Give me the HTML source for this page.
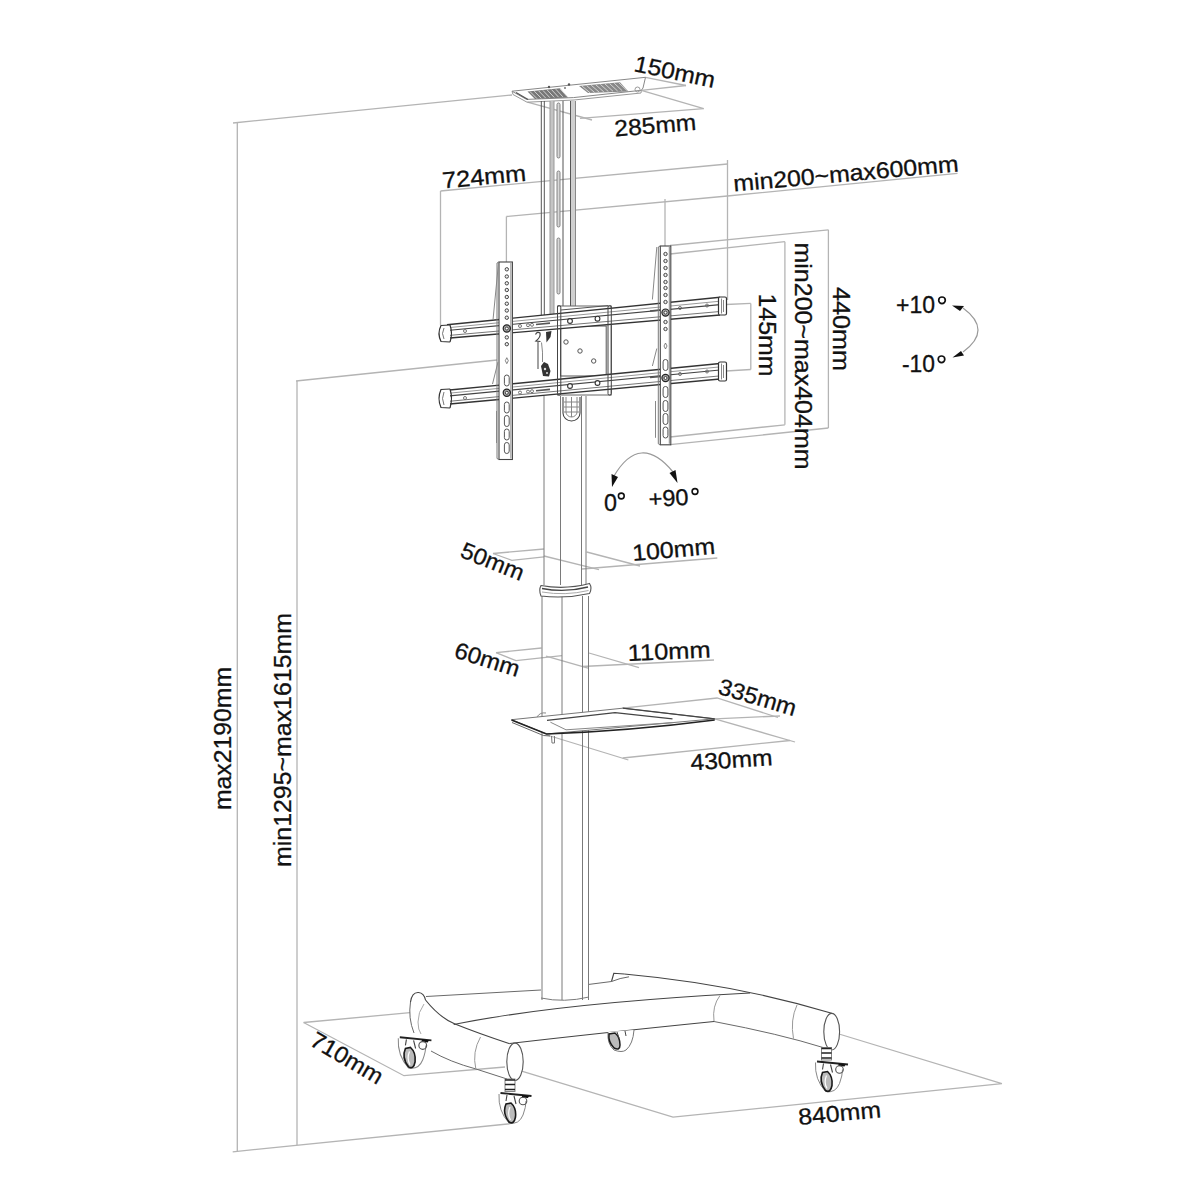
<!DOCTYPE html>
<html><head><meta charset="utf-8"><style>
html,body{margin:0;padding:0;background:#fff;}
svg{display:block;}
</style></head><body>
<svg width="1200" height="1200" viewBox="0 0 1200 1200">
<rect width="1200" height="1200" fill="#fff"/>
<path d="M237.3,122.5 L237.3,1151.8" stroke="#b4b4b4" stroke-width="1.3" fill="none"/>
<path d="M233.0,123.0 L512.0,95.0" stroke="#b4b4b4" stroke-width="1.3" fill="none"/>
<path d="M232.7,1151.8 L510.5,1123.7" stroke="#b4b4b4" stroke-width="1.3" fill="none"/>
<path d="M297.0,381.0 L297.0,1145.0" stroke="#b4b4b4" stroke-width="1.3" fill="none"/>
<path d="M296.0,381.0 L497.0,360.0" stroke="#b4b4b4" stroke-width="1.3" fill="none"/>
<path d="M645.5,77.3 L686.0,85.5" stroke="#b4b4b4" stroke-width="1.3" fill="none"/>
<path d="M641.3,90.3 L686.0,85.5" stroke="#b4b4b4" stroke-width="1.3" fill="none"/>
<path d="M641.3,90.3 L703.7,108.6" stroke="#b4b4b4" stroke-width="1.3" fill="none"/>
<path d="M527.5,102.2 L592.0,120.0" stroke="#b4b4b4" stroke-width="1.3" fill="none"/>
<path d="M580.0,118.3 L703.7,108.6" stroke="#b4b4b4" stroke-width="1.3" fill="none"/>
<path d="M440.5,191.0 L727.5,164.0" stroke="#b4b4b4" stroke-width="1.3" fill="none"/>
<path d="M440.5,191.0 L440.5,325.0" stroke="#b4b4b4" stroke-width="1.3" fill="none"/>
<path d="M727.5,160.0 L727.5,300.0" stroke="#b4b4b4" stroke-width="1.3" fill="none"/>
<path d="M506.4,216.5 L727.5,196.0 L957.5,173.3" stroke="#b4b4b4" stroke-width="1.3" fill="none"/>
<path d="M506.4,216.5 L506.4,262.0" stroke="#b4b4b4" stroke-width="1.3" fill="none"/>
<path d="M665.0,199.0 L665.0,246.0" stroke="#b4b4b4" stroke-width="1.3" fill="none"/>
<path d="M670.0,245.5 L828.4,229.8" stroke="#b4b4b4" stroke-width="1.3" fill="none"/>
<path d="M828.4,229.8 L828.4,428.0" stroke="#b4b4b4" stroke-width="1.3" fill="none"/>
<path d="M670.0,444.7 L828.4,428.0" stroke="#b4b4b4" stroke-width="1.3" fill="none"/>
<path d="M670.0,254.0 L784.9,241.7" stroke="#b4b4b4" stroke-width="1.3" fill="none"/>
<path d="M784.9,241.7 L784.9,424.8" stroke="#b4b4b4" stroke-width="1.3" fill="none"/>
<path d="M670.0,437.0 L784.9,424.8" stroke="#b4b4b4" stroke-width="1.3" fill="none"/>
<path d="M726.0,304.5 L750.8,303.4" stroke="#b4b4b4" stroke-width="1.3" fill="none"/>
<path d="M750.8,303.4 L750.8,369.5" stroke="#b4b4b4" stroke-width="1.3" fill="none"/>
<path d="M726.0,371.0 L750.8,369.5" stroke="#b4b4b4" stroke-width="1.3" fill="none"/>
<path d="M493.0,553.5 L544.0,549.0" stroke="#b4b4b4" stroke-width="1.3" fill="none"/>
<path d="M493.0,553.5 L511.8,560.3 L544.0,556.8" stroke="#b4b4b4" stroke-width="1.3" fill="none"/>
<path d="M544.0,556.0 L599.0,569.7" stroke="#b4b4b4" stroke-width="1.3" fill="none"/>
<path d="M586.7,552.0 L640.0,566.0" stroke="#b4b4b4" stroke-width="1.3" fill="none"/>
<path d="M582.0,569.0 L717.3,558.0" stroke="#b4b4b4" stroke-width="1.3" fill="none"/>
<path d="M496.0,652.7 L541.5,648.0" stroke="#b4b4b4" stroke-width="1.3" fill="none"/>
<path d="M496.0,652.7 L516.0,660.6 L562.0,655.6" stroke="#b4b4b4" stroke-width="1.3" fill="none"/>
<path d="M546.0,656.0 L588.0,668.0" stroke="#b4b4b4" stroke-width="1.3" fill="none"/>
<path d="M589.0,653.0 L639.0,667.6" stroke="#b4b4b4" stroke-width="1.3" fill="none"/>
<path d="M582.0,666.5 L714.0,660.0" stroke="#b4b4b4" stroke-width="1.3" fill="none"/>
<path d="M622.7,708.2 L717.0,698.0 L778.0,717.5" stroke="#b4b4b4" stroke-width="1.3" fill="none"/>
<path d="M714.7,718.8 L780.0,716.0" stroke="#b4b4b4" stroke-width="1.3" fill="none"/>
<path d="M714.7,718.8 L795.0,742.0" stroke="#b4b4b4" stroke-width="1.3" fill="none"/>
<path d="M547.0,735.0 L628.4,760.0" stroke="#b4b4b4" stroke-width="1.3" fill="none"/>
<path d="M622.7,758.0 L790.0,740.5" stroke="#b4b4b4" stroke-width="1.3" fill="none"/>
<path d="M303.6,1022.5 L410.0,1012.7" stroke="#b4b4b4" stroke-width="1.3" fill="none"/>
<path d="M303.6,1022.5 L404.0,1075.7 L505.0,1067.0" stroke="#b4b4b4" stroke-width="1.3" fill="none"/>
<path d="M520.0,1070.7 L673.0,1117.2 L1001.9,1083.7 L839.0,1034.0" stroke="#b4b4b4" stroke-width="1.3" fill="none"/>
<path d="M512,91.2 L645.5,77.3 L643,88 L641.3,90.3 L573.4,97.6 L526.6,99.4 Z" stroke="#888" stroke-width="1" fill="#fff"/>
<path d="M512,91.2 L513,94.5 L527,102.2 L574,100 L641,93 L641.3,90.3" stroke="#999" stroke-width="1" fill="none"/>
<path d="M516,92.5 L528,99.5" stroke="#555" stroke-width="1.3" fill="none"/>
<path d="M527.5,91.5 L560,88.3 L568,97.5 L535,99 Z" fill="#777"/>
<path d="M579,86 L620,82.2 L628.4,91.5 L588,93 Z" fill="#888"/>
<path d="M530.0,91.6 L537.0,98.6" stroke="#ddd" stroke-width="0.9"/>
<path d="M534.3,91.2 L541.3,98.3" stroke="#ddd" stroke-width="0.9"/>
<path d="M538.6,90.8 L545.6,98.0" stroke="#ddd" stroke-width="0.9"/>
<path d="M542.9,90.4 L549.9,97.7" stroke="#ddd" stroke-width="0.9"/>
<path d="M547.2,90.0 L554.2,97.4" stroke="#ddd" stroke-width="0.9"/>
<path d="M551.5,89.6 L558.5,97.1" stroke="#ddd" stroke-width="0.9"/>
<path d="M555.8,89.2 L562.8,96.8" stroke="#ddd" stroke-width="0.9"/>
<path d="M560.1,88.8 L567.1,96.5" stroke="#ddd" stroke-width="0.9"/>
<path d="M582.0,86.0 L590.0,92.8" stroke="#ddd" stroke-width="0.9"/>
<path d="M586.6,85.6 L594.6,92.5" stroke="#ddd" stroke-width="0.9"/>
<path d="M591.2,85.2 L599.2,92.2" stroke="#ddd" stroke-width="0.9"/>
<path d="M595.8,84.8 L603.8,91.9" stroke="#ddd" stroke-width="0.9"/>
<path d="M600.4,84.4 L608.4,91.6" stroke="#ddd" stroke-width="0.9"/>
<path d="M605.0,84.0 L613.0,91.3" stroke="#ddd" stroke-width="0.9"/>
<path d="M609.6,83.6 L617.6,91.0" stroke="#ddd" stroke-width="0.9"/>
<path d="M614.2,83.2 L622.2,90.7" stroke="#ddd" stroke-width="0.9"/>
<path d="M618.8,82.8 L626.8,90.4" stroke="#ddd" stroke-width="0.9"/>
<circle cx="549" cy="87" r="1.2" fill="#555"/><circle cx="569" cy="84.5" r="1.2" fill="#555"/><circle cx="565" cy="88" r="1" fill="#777"/>
<path d="M635,89.5 a2.5,2.5 0 1,0 5,0 a2.5,2.5 0 1,0 -5,0" stroke="#999" stroke-width="1" fill="none"/>
<rect x="550" y="101" width="4" height="217" fill="#c4c4c4"/>
<rect x="570.5" y="101" width="5" height="215" fill="#cfcfcf"/>
<path d="M541.3,101.0 L541.3,318.0" stroke="#555" stroke-width="1" fill="none"/>
<path d="M544.3,101.0 L544.3,318.0" stroke="#555" stroke-width="1" fill="none"/>
<path d="M563.0,101.0 L563.0,318.0" stroke="#555" stroke-width="1" fill="none"/>
<path d="M570.5,101.0 L570.5,318.0" stroke="#555" stroke-width="1" fill="none"/>
<path d="M575.5,101.0 L575.5,316.0" stroke="#888" stroke-width="1" fill="none"/>
<path d="M550.0,101.0 L550.0,318.0" stroke="#999" stroke-width="1" fill="none"/>
<path d="M554.0,101.0 L554.0,318.0" stroke="#999" stroke-width="1" fill="none"/>
<path d="M557,104.5 L557,156.5 A1.5,1.5 0 0,0 560,156.5 L560,104.5 A1.5,1.5 0 0,0 557,104.5 Z" stroke="#777" stroke-width="0.9" fill="#d8d8d8"/>
<path d="M557,172.5 L557,225.5 A1.5,1.5 0 0,0 560,225.5 L560,172.5 A1.5,1.5 0 0,0 557,172.5 Z" stroke="#777" stroke-width="0.9" fill="#d8d8d8"/>
<path d="M557,239.5 L557,292.5 A1.5,1.5 0 0,0 560,292.5 L560,239.5 A1.5,1.5 0 0,0 557,239.5 Z" stroke="#777" stroke-width="0.9" fill="#d8d8d8"/>
<path d="M544.0,396.0 L544.0,585.0" stroke="#7a7a7a" stroke-width="1" fill="none"/>
<path d="M560.5,396.0 L560.5,585.0" stroke="#7a7a7a" stroke-width="1" fill="none"/>
<path d="M581.5,396.0 L581.5,585.0" stroke="#7a7a7a" stroke-width="1" fill="none"/>
<path d="M586.0,396.0 L586.0,585.0" stroke="#7a7a7a" stroke-width="1" fill="none"/>
<path d="M542.0,596.0 L542.0,1000.0" stroke="#7a7a7a" stroke-width="1" fill="none"/>
<path d="M562.0,596.0 L562.0,1000.0" stroke="#7a7a7a" stroke-width="1" fill="none"/>
<path d="M582.5,596.0 L582.5,1000.0" stroke="#7a7a7a" stroke-width="1" fill="none"/>
<path d="M588.5,596.0 L588.5,1000.0" stroke="#7a7a7a" stroke-width="1" fill="none"/>
<path d="M541,998 Q564,1003 589,997" stroke="#7a7a7a" stroke-width="1" fill="none"/>
<path d="M541,585.5 Q538.5,590 541,596 Q565,599 589.5,593.5 Q592.5,588 589.5,583.5 Q565,590 541,585.5 Z" stroke="#555" stroke-width="1.1" fill="#fff"/>
<path d="M542,588.5 Q565,593 588,587" stroke="#444" stroke-width="1.3" fill="none"/>
<path d="M542,592 Q565,596 588.5,590.5" stroke="#aaa" stroke-width="1" fill="none"/>
<rect x="557.5" y="306" width="53.7" height="89" fill="#fff" stroke="#666" stroke-width="1"/>
<rect x="560.6" y="326" width="45.6" height="50" fill="#fff" stroke="#555" stroke-width="1"/>
<circle cx="566" cy="342" r="2.2" fill="none" stroke="#555" stroke-width="1"/>
<circle cx="580" cy="351" r="2.2" fill="none" stroke="#555" stroke-width="1"/>
<circle cx="593.7" cy="361" r="2.2" fill="none" stroke="#555" stroke-width="1"/>
<path d="M563,397 L563,413 A8.5,8 0 0,0 580,413 L580,397" stroke="#444" stroke-width="1.1" fill="#fff"/>
<path d="M566,397 L566,412 A5.5,5 0 0,0 577,412 L577,397" stroke="#888" stroke-width="1" fill="none"/>
<path d="M564.0,402.0 L579.0,402.0" stroke="#888" stroke-width="1" fill="none"/>
<path d="M564.0,407.0 L579.0,407.0" stroke="#888" stroke-width="1" fill="none"/>
<path d="M564.0,412.0 L579.0,412.0" stroke="#888" stroke-width="1" fill="none"/>
<path d="M571.5,397.0 L571.5,417.0" stroke="#888" stroke-width="1" fill="none"/>
<path d="M535.5,334.5 Q537.5,331 540,333 Q541,337 536,341 L540.5,341.5" stroke="#444" stroke-width="1.2" fill="none"/>
<path d="M546,332 L551.5,331 L550.5,337 L546.5,342.5 Z" fill="#333"/>
<path d="M538.0,342.0 L538.0,369.0" stroke="#555" stroke-width="1.1" fill="none"/>
<path d="M541.5,342.5 Q543,352 542.5,362" stroke="#888" stroke-width="1" fill="none"/>
<path d="M541,366 L544,362 L548,364 L550.5,371 L549,376.5 L543,376 Z" fill="#333"/>
<circle cx="545" cy="369" r="1.2" fill="#ddd"/><circle cx="547" cy="373" r="1" fill="#ddd"/>
<path d="M447,324.8 L720,297.3 L720,315 L447,338.3 Z" fill="#fff" stroke="none"/>
<path d="M447,324.8 L720,297.3" stroke="#333" stroke-width="1.4" fill="none"/>
<path d="M447,338.3 L720,315" stroke="#333" stroke-width="1.4" fill="none"/>
<path d="M447,327.8 L720,301.2" stroke="#999" stroke-width="1" fill="none"/>
<path d="M447,330.5 L720,304.7" stroke="#444" stroke-width="1.2" fill="none"/>
<path d="M447,335.6 L720,311.5" stroke="#777" stroke-width="1" fill="none"/>
<path d="M447,390.3 L720,363.5 L720,379 L447,404.3 Z" fill="#fff" stroke="none"/>
<path d="M447,390.3 L720,363.5" stroke="#333" stroke-width="1.4" fill="none"/>
<path d="M447,404.3 L720,379" stroke="#333" stroke-width="1.4" fill="none"/>
<path d="M447,393.4 L720,366.9" stroke="#999" stroke-width="1" fill="none"/>
<path d="M447,396.2 L720,370.0" stroke="#444" stroke-width="1.2" fill="none"/>
<path d="M447,401.5 L720,375.9" stroke="#777" stroke-width="1" fill="none"/>
<path d="M450,325 L441,325.5 Q437,333.5 441,341.5 L450,342" fill="#fff" stroke="#333" stroke-width="1.2"/>
<path d="M450,325 Q453,333.5 450,342" fill="none" stroke="#333" stroke-width="1.2"/>
<path d="M444,328 Q441,333.5 444,339" fill="none" stroke="#666" stroke-width="0.9"/>
<path d="M450,389 L441,389.5 Q437,398.5 441,407.5 L450,408" fill="#fff" stroke="#333" stroke-width="1.2"/>
<path d="M450,389 Q453,398.5 450,408" fill="none" stroke="#333" stroke-width="1.2"/>
<path d="M444,392 Q441,398.5 444,405" fill="none" stroke="#666" stroke-width="0.9"/>
<rect x="718.5" y="297" width="8" height="18" rx="1.5" fill="#fff" stroke="#333" stroke-width="1.2"/>
<path d="M721.5,298.5 L721.5,313.5" stroke="#888" stroke-width="1" fill="none"/>
<path d="M723.5,300.0 L723.5,312.0" stroke="#888" stroke-width="1" fill="none"/>
<rect x="718.5" y="362" width="8" height="19" rx="1.5" fill="#fff" stroke="#333" stroke-width="1.2"/>
<path d="M721.5,363.5 L721.5,379.5" stroke="#888" stroke-width="1" fill="none"/>
<path d="M723.5,365.0 L723.5,378.0" stroke="#888" stroke-width="1" fill="none"/>
<circle cx="465" cy="331" r="1.5" fill="none" stroke="#666" stroke-width="0.9"/>
<circle cx="520" cy="326" r="1.5" fill="none" stroke="#666" stroke-width="0.9"/>
<circle cx="528" cy="325.2" r="1.5" fill="none" stroke="#666" stroke-width="0.9"/>
<circle cx="532" cy="324.8" r="1.5" fill="none" stroke="#666" stroke-width="0.9"/>
<circle cx="680" cy="308" r="1.5" fill="none" stroke="#666" stroke-width="0.9"/>
<circle cx="707" cy="305.5" r="1.5" fill="none" stroke="#666" stroke-width="0.9"/>
<circle cx="465" cy="398" r="1.5" fill="none" stroke="#666" stroke-width="0.9"/>
<circle cx="520" cy="392.5" r="1.5" fill="none" stroke="#666" stroke-width="0.9"/>
<circle cx="528" cy="391.6" r="1.5" fill="none" stroke="#666" stroke-width="0.9"/>
<circle cx="532" cy="391.2" r="1.5" fill="none" stroke="#666" stroke-width="0.9"/>
<circle cx="680" cy="374" r="1.5" fill="none" stroke="#666" stroke-width="0.9"/>
<circle cx="707" cy="371.5" r="1.5" fill="none" stroke="#666" stroke-width="0.9"/>
<path d="M536,324.5 L550,323.1" stroke="#555" stroke-width="1.6"/>
<path d="M650,311 L664,309.6" stroke="#555" stroke-width="1.6"/>
<path d="M536,390.8 L550,389.40000000000003" stroke="#555" stroke-width="1.6"/>
<path d="M650,377.5 L664,376.1" stroke="#555" stroke-width="1.6"/>
<circle cx="570" cy="321" r="2.4" fill="#fff" stroke="#333" stroke-width="1.1"/>
<circle cx="597.5" cy="318.7" r="2.4" fill="#fff" stroke="#333" stroke-width="1.1"/>
<circle cx="570" cy="386" r="2.4" fill="#fff" stroke="#333" stroke-width="1.1"/>
<circle cx="597.5" cy="383" r="2.4" fill="#fff" stroke="#333" stroke-width="1.1"/>
<rect x="557.5" y="305.6" width="3.3" height="89.5" rx="1.5" fill="none" stroke="#444" stroke-width="1"/>
<rect x="608" y="305.6" width="3.3" height="89.5" rx="1.5" fill="none" stroke="#444" stroke-width="1"/>
<path d="M560.8,310.0 L608.0,305.6" stroke="#555" stroke-width="1" fill="none"/>
<rect x="499" y="262" width="13.399999999999977" height="197.5" fill="#fff" stroke="#444" stroke-width="1.1"/>
<path d="M497.0,263.0 L497.0,458.5" stroke="#7a7a7a" stroke-width="1" fill="none"/>
<path d="M497.0,263.0 L499.0,262.0" stroke="#7a7a7a" stroke-width="1" fill="none"/>
<path d="M497.0,458.5 L499.0,459.5" stroke="#7a7a7a" stroke-width="1" fill="none"/>
<path d="M510.9,263.0 L510.9,458.5" stroke="#888" stroke-width="1" fill="none"/>
<circle cx="506.8" cy="269.3" r="1.7" fill="#eee" stroke="#444" stroke-width="1"/>
<circle cx="506.8" cy="276.5" r="1.7" fill="#eee" stroke="#444" stroke-width="1"/>
<circle cx="506.8" cy="283.3" r="1.7" fill="#eee" stroke="#444" stroke-width="1"/>
<circle cx="506.8" cy="290" r="1.7" fill="#eee" stroke="#444" stroke-width="1"/>
<circle cx="506.8" cy="297" r="1.7" fill="#eee" stroke="#444" stroke-width="1"/>
<circle cx="506.8" cy="303.7" r="1.7" fill="#eee" stroke="#444" stroke-width="1"/>
<circle cx="506.8" cy="310.5" r="1.7" fill="#eee" stroke="#444" stroke-width="1"/>
<circle cx="506.8" cy="317.7" r="1.7" fill="#eee" stroke="#444" stroke-width="1"/>
<circle cx="506.8" cy="337.4" r="1.7" fill="#eee" stroke="#444" stroke-width="1"/>
<circle cx="506.8" cy="344.2" r="1.7" fill="#eee" stroke="#444" stroke-width="1"/>
<circle cx="506.8" cy="328.5" r="3.6" fill="#aaa" stroke="#222" stroke-width="1.2"/>
<circle cx="506.8" cy="328.5" r="1.5" fill="#fff" stroke="#222" stroke-width="0.8"/>
<circle cx="506.8" cy="392.8" r="3.6" fill="#aaa" stroke="#222" stroke-width="1.2"/>
<circle cx="506.8" cy="392.8" r="1.5" fill="#fff" stroke="#222" stroke-width="0.8"/>
<path d="M506.8,357.7 L508.3,360.7 L506.8,363.7 L505.3,360.7 Z" fill="none" stroke="#666" stroke-width="0.8"/>
<rect x="504.40000000000003" y="375.0" width="4.8" height="11" rx="2.4" fill="none" stroke="#555" stroke-width="1"/>
<rect x="504.40000000000003" y="402.0" width="4.8" height="11" rx="2.4" fill="none" stroke="#555" stroke-width="1"/>
<rect x="504.40000000000003" y="415.5" width="4.8" height="11" rx="2.4" fill="none" stroke="#555" stroke-width="1"/>
<rect x="504.40000000000003" y="429.0" width="4.8" height="11" rx="2.4" fill="none" stroke="#555" stroke-width="1"/>
<rect x="504.40000000000003" y="442.5" width="4.8" height="11" rx="2.4" fill="none" stroke="#555" stroke-width="1"/>
<rect x="660.3" y="246" width="10.5" height="198.8" fill="#fff" stroke="#444" stroke-width="1.1"/>
<path d="M658.3,247.0 L658.3,443.8" stroke="#7a7a7a" stroke-width="1" fill="none"/>
<path d="M658.3,247.0 L660.3,246.0" stroke="#7a7a7a" stroke-width="1" fill="none"/>
<path d="M658.3,443.8 L660.3,444.8" stroke="#7a7a7a" stroke-width="1" fill="none"/>
<path d="M669.3,247.0 L669.3,443.8" stroke="#888" stroke-width="1" fill="none"/>
<circle cx="665.5" cy="254" r="1.7" fill="#eee" stroke="#444" stroke-width="1"/>
<circle cx="665.5" cy="261" r="1.7" fill="#eee" stroke="#444" stroke-width="1"/>
<circle cx="665.5" cy="268" r="1.7" fill="#eee" stroke="#444" stroke-width="1"/>
<circle cx="665.5" cy="275" r="1.7" fill="#eee" stroke="#444" stroke-width="1"/>
<circle cx="665.5" cy="282" r="1.7" fill="#eee" stroke="#444" stroke-width="1"/>
<circle cx="665.5" cy="288" r="1.7" fill="#eee" stroke="#444" stroke-width="1"/>
<circle cx="665.5" cy="295" r="1.7" fill="#eee" stroke="#444" stroke-width="1"/>
<circle cx="665.5" cy="302" r="1.7" fill="#eee" stroke="#444" stroke-width="1"/>
<circle cx="665.5" cy="322" r="1.7" fill="#eee" stroke="#444" stroke-width="1"/>
<circle cx="665.5" cy="329" r="1.7" fill="#eee" stroke="#444" stroke-width="1"/>
<circle cx="665.5" cy="312.6" r="3.6" fill="#aaa" stroke="#222" stroke-width="1.2"/>
<circle cx="665.5" cy="312.6" r="1.5" fill="#fff" stroke="#222" stroke-width="0.8"/>
<circle cx="665.5" cy="378" r="3.6" fill="#aaa" stroke="#222" stroke-width="1.2"/>
<circle cx="665.5" cy="378" r="1.5" fill="#fff" stroke="#222" stroke-width="0.8"/>
<path d="M665.5,343 L667.0,346 L665.5,349 L664.0,346 Z" fill="none" stroke="#666" stroke-width="0.8"/>
<rect x="663.1" y="359.5" width="4.8" height="11" rx="2.4" fill="none" stroke="#555" stroke-width="1"/>
<rect x="663.1" y="386.5" width="4.8" height="11" rx="2.4" fill="none" stroke="#555" stroke-width="1"/>
<rect x="663.1" y="400.5" width="4.8" height="11" rx="2.4" fill="none" stroke="#555" stroke-width="1"/>
<rect x="663.1" y="413.5" width="4.8" height="11" rx="2.4" fill="none" stroke="#555" stroke-width="1"/>
<rect x="663.1" y="427.0" width="4.8" height="11" rx="2.4" fill="none" stroke="#555" stroke-width="1"/>
<path d="M498.5,263 L493,320 M498,362 L492.5,384 M496.5,411 L496.5,443" stroke="#888" stroke-width="1" fill="none"/>
<path d="M656.8,247 L652.4,299.5 M656.8,348.5 L652.4,366 M655.5,401 L655.5,437.8" stroke="#888" stroke-width="1" fill="none"/>
<path d="M511.5,719.7 L622.7,708.2 L714.7,718.8 L546.5,734 Z" stroke="#777" stroke-width="1" fill="#fff"/>
<path d="M511.5,720 L546.5,734 Q630,731 714.7,720" stroke="#222" stroke-width="1.6" fill="none"/>
<path d="M512,722.5 L543.4,735.5 L550,736" stroke="#666" stroke-width="1" fill="none"/>
<path d="M547,720.4 L615,712.6 L672.5,718.8" stroke="#444" stroke-width="1.2" fill="none"/>
<path d="M566,729.8 L673.5,722.6" stroke="#888" stroke-width="1" fill="none"/>
<path d="M550.4,722.2 L566,729.8" stroke="#888" stroke-width="1" fill="none"/>
<path d="M622.7,708.2 L714.7,718.8" stroke="#444" stroke-width="1.2" fill="none"/>
<path d="M551.5,736 L552,743 L554.5,743 L554.5,736" stroke="#7a7a7a" stroke-width="1" fill="none"/>
<path d="M537,717 Q540,712 546,713" stroke="#888" stroke-width="1" fill="none"/>
<path d="M426.0,996.5 L541.0,990.0" stroke="#6a6a6a" stroke-width="1" fill="none"/>
<path d="M589.0,984.4 L611.5,981.5" stroke="#6a6a6a" stroke-width="1" fill="none"/>
<path d="M611.5,981.5 L613.8,973.3 L624.3,974" stroke="#444" stroke-width="1.15" fill="none"/>
<path d="M611.5,981.5 Q620,978 629,976.8" stroke="#6a6a6a" stroke-width="1" fill="none"/>
<path d="M624.3,974 Q735,984 831.7,1013.3" stroke="#444" stroke-width="1.15" fill="none"/>
<path d="M410.5,1002 Q412,992 418.5,992.5 Q424,993 425.5,1000" stroke="#444" stroke-width="1.15" fill="none"/>
<path d="M410.5,1002 Q408,1018 414,1033" stroke="#6a6a6a" stroke-width="1" fill="none"/>
<path d="M424,1004 Q418,1012 418,1022 Q418,1030 421,1034" stroke="#aaa" stroke-width="1" fill="none"/>
<path d="M425.5,1000 Q440,1018 455,1024 Q480,1034 509.7,1043.7" stroke="#444" stroke-width="1.15" fill="none"/>
<path d="M431,1051 Q450,1062 476,1069 L507,1079" stroke="#6a6a6a" stroke-width="1" fill="none"/>
<path d="M480.5,1037 Q472,1052 475.8,1068.8" stroke="#999" stroke-width="1" fill="none"/>
<path d="M453.7,1024.5 Q560,1003 750,993" stroke="#444" stroke-width="1.15" fill="none"/>
<path d="M509.7,1043.5 Q600,1033 714,1021.5" stroke="#444" stroke-width="1.15" fill="none"/>
<path d="M714,1021.5 Q780,1034 823,1047.5" stroke="#6a6a6a" stroke-width="1" fill="none"/>
<path d="M720,995.5 Q712,1006 714,1021" stroke="#999" stroke-width="1" fill="none"/>
<path d="M797,1005 Q790,1020 793.5,1038.7" stroke="#999" stroke-width="1" fill="none"/>
<ellipse cx="515" cy="1061.8" rx="8.2" ry="18.7" fill="#fff" stroke="#555" stroke-width="1.1"/>
<ellipse cx="831.7" cy="1031.7" rx="7.9" ry="18.3" fill="#fff" stroke="#555" stroke-width="1.1"/>
<g transform="translate(510,1079) scale(1.0)">
<rect x="-5" y="0" width="10" height="12.5" fill="#fff" stroke="#777" stroke-width="0.9"/>
<path d="M-5,1 L5,1 M-5,5.5 L5,5.5 M-5,10.5 L5,10.5" stroke="#222" stroke-width="1.5"/>
<path d="M-11,15 Q-12,32 -1,44 Q9,46 13,36 Q16,28 16,22" fill="#fff" stroke="#888" stroke-width="1"/>
<path d="M-9.5,14 L21.5,17" stroke="#222" stroke-width="1.9" fill="none"/>
<path d="M12,16 L19,17 L18,19 L12,18.5 Z" fill="#111"/>
<circle cx="13" cy="22" r="3.8" fill="none" stroke="#555" stroke-width="1.1"/>
<path d="M-4,25 Q-8,34 -1,43 Q4,46 5.5,38 Q6.5,29 1,24 Z" fill="#bbb" stroke="#1a1a1a" stroke-width="1.6"/>
<path d="M0,28 Q-3,35 0.5,41" fill="none" stroke="#fff" stroke-width="1.2"/>
<path d="M4,17 L6,25 M-3,16 L-4,22" stroke="#444" stroke-width="1.1"/>
</g>
<g transform="translate(826.5,1047.5) scale(1.0)">
<rect x="-5" y="0" width="10" height="12.5" fill="#fff" stroke="#777" stroke-width="0.9"/>
<path d="M-5,1 L5,1 M-5,5.5 L5,5.5 M-5,10.5 L5,10.5" stroke="#222" stroke-width="1.5"/>
<path d="M-11,15 Q-12,32 -1,44 Q9,46 13,36 Q16,28 16,22" fill="#fff" stroke="#888" stroke-width="1"/>
<path d="M-9.5,14 L21.5,17" stroke="#222" stroke-width="1.9" fill="none"/>
<path d="M12,16 L19,17 L18,19 L12,18.5 Z" fill="#111"/>
<circle cx="13" cy="22" r="3.8" fill="none" stroke="#555" stroke-width="1.1"/>
<path d="M-4,25 Q-8,34 -1,43 Q4,46 5.5,38 Q6.5,29 1,24 Z" fill="#bbb" stroke="#1a1a1a" stroke-width="1.6"/>
<path d="M0,28 Q-3,35 0.5,41" fill="none" stroke="#fff" stroke-width="1.2"/>
<path d="M4,17 L6,25 M-3,16 L-4,22" stroke="#444" stroke-width="1.1"/>
</g>
<g transform="translate(409.5,1023) scale(1.02)">
<path d="M-11,15 Q-12,32 -1,44 Q9,46 13,36 Q16,28 16,22" fill="#fff" stroke="#888" stroke-width="1"/>
<path d="M-9.5,14 L21.5,17" stroke="#222" stroke-width="1.9" fill="none"/>
<path d="M12,16 L19,17 L18,19 L12,18.5 Z" fill="#111"/>
<circle cx="13" cy="22" r="3.8" fill="none" stroke="#555" stroke-width="1.1"/>
<path d="M-4,25 Q-8,34 -1,43 Q4,46 5.5,38 Q6.5,29 1,24 Z" fill="#bbb" stroke="#1a1a1a" stroke-width="1.6"/>
<path d="M0,28 Q-3,35 0.5,41" fill="none" stroke="#fff" stroke-width="1.2"/>
<path d="M4,17 L6,25 M-3,16 L-4,22" stroke="#444" stroke-width="1.1"/>
</g>
<g transform="translate(620,1030)"><path d="M-12,2 Q-13,14 -6,20 Q2,23 6,20 Q13,14 14,0" fill="#fff" stroke="#777" stroke-width="1"/><path d="M-11,4 Q-12,12 -6,18 Q0,21 0,15 Q0,7 -5,3 Z" fill="#bbb" stroke="#1a1a1a" stroke-width="1.5"/><path d="M-3,2 L-1,8 M5,1 L6,6" stroke="#444" stroke-width="1"/></g>
<path d="M963,308 Q993,330 963,352" stroke="#999" stroke-width="1.2" fill="none"/>
<path d="M952,305.5 L964,306 L960,311 Z" fill="#111"/>
<path d="M952.5,357.5 L961,351 L964,355.5 Z" fill="#111"/>
<path d="M614,476 Q640,432 673,472" stroke="#999" stroke-width="1.2" fill="none"/>
<path d="M612,487 L611.5,474 L618,477 Z" fill="#111"/>
<path d="M677.5,483 L669.5,473 L675.5,470 Z" fill="#111"/>
<g font-family="Liberation Sans, sans-serif" fill="#111" stroke="#111" stroke-width="0.3">
<text x="0" y="0" transform="translate(633.0,71.0) rotate(12.00)" font-size="23" textLength="82.0" lengthAdjust="spacingAndGlyphs">150mm</text>
<text x="0" y="0" transform="translate(615.0,136.5) rotate(-4.70)" font-size="23" textLength="82.0" lengthAdjust="spacingAndGlyphs">285mm</text>
<text x="0" y="0" transform="translate(443.0,188.5) rotate(-5.30)" font-size="23" textLength="84.0" lengthAdjust="spacingAndGlyphs">724mm</text>
<text x="0" y="0" transform="translate(734.0,191.5) rotate(-5.10)" font-size="23" textLength="226.0" lengthAdjust="spacingAndGlyphs">min200~max600mm</text>
<text x="0" y="0" transform="translate(833,287) rotate(90)" font-size="23.5" textLength="84" lengthAdjust="spacingAndGlyphs">440mm</text>
<text x="0" y="0" transform="translate(795,242.5) rotate(90)" font-size="24.3" textLength="227" lengthAdjust="spacingAndGlyphs">min200~max404mm</text>
<text x="0" y="0" transform="translate(758.6,293.5) rotate(90)" font-size="23.5" textLength="83" lengthAdjust="spacingAndGlyphs">145mm</text>
<text x="0" y="0" transform="translate(896.0,312.5) rotate(0.00)" font-size="23" textLength="39.0" lengthAdjust="spacingAndGlyphs">+10</text>
<circle cx="942" cy="300.3" r="3.3" fill="none" stroke="#111" stroke-width="1.7"/>
<text x="0" y="0" transform="translate(902.0,371.5) rotate(0.00)" font-size="23" textLength="33.0" lengthAdjust="spacingAndGlyphs">-10</text>
<circle cx="941.5" cy="359.3" r="3.3" fill="none" stroke="#111" stroke-width="1.7"/>
<text x="0" y="0" transform="translate(604.0,511.0) rotate(0.00)" font-size="23" textLength="13.0" lengthAdjust="spacingAndGlyphs">0</text>
<circle cx="621.3" cy="496" r="2.9" fill="none" stroke="#111" stroke-width="1.6"/>
<text x="0" y="0" transform="translate(649.0,507.0) rotate(-3.00)" font-size="23" textLength="40.0" lengthAdjust="spacingAndGlyphs">+90</text>
<circle cx="695" cy="491.5" r="2.9" fill="none" stroke="#111" stroke-width="1.6"/>
<text x="0" y="0" transform="translate(459.0,556.5) rotate(21.80)" font-size="23" textLength="66.0" lengthAdjust="spacingAndGlyphs">50mm</text>
<text x="0" y="0" transform="translate(633.0,561.0) rotate(-5.00)" font-size="23" textLength="83.0" lengthAdjust="spacingAndGlyphs">100mm</text>
<text x="0" y="0" transform="translate(453.0,657.0) rotate(17.50)" font-size="23" textLength="67.0" lengthAdjust="spacingAndGlyphs">60mm</text>
<text x="0" y="0" transform="translate(628.0,661.0) rotate(-2.50)" font-size="23" textLength="83.0" lengthAdjust="spacingAndGlyphs">110mm</text>
<text x="0" y="0" transform="translate(717.0,693.5) rotate(16.50)" font-size="23" textLength="80.0" lengthAdjust="spacingAndGlyphs">335mm</text>
<text x="0" y="0" transform="translate(691.0,770.5) rotate(-3.75)" font-size="23" textLength="82.0" lengthAdjust="spacingAndGlyphs">430mm</text>
<text x="0" y="0" transform="translate(308.5,1044.5) rotate(30.50)" font-size="23" textLength="80.0" lengthAdjust="spacingAndGlyphs">710mm</text>
<text x="0" y="0" transform="translate(799.0,1125.0) rotate(-5.40)" font-size="23" textLength="83.0" lengthAdjust="spacingAndGlyphs">840mm</text>
<text x="0" y="0" transform="translate(231.2,810) rotate(-90)" font-size="23" textLength="143" lengthAdjust="spacingAndGlyphs">max2190mm</text>
<text x="0" y="0" transform="translate(291.3,867) rotate(-90)" font-size="23" textLength="254" lengthAdjust="spacingAndGlyphs">min1295~max1615mm</text>
</g>
</svg>
</body></html>
